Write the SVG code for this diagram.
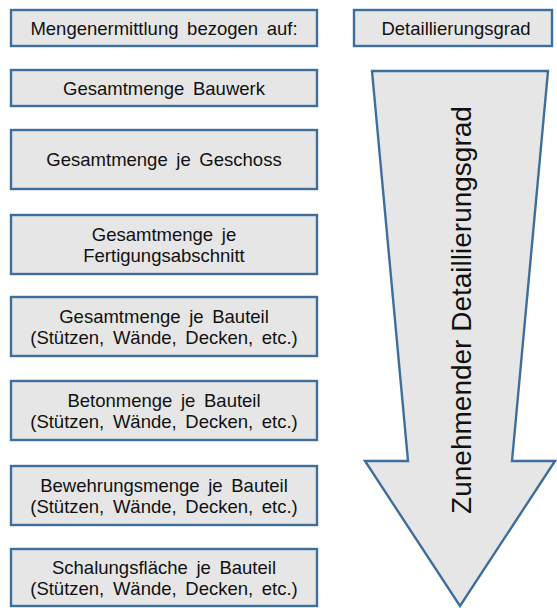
<svg xmlns="http://www.w3.org/2000/svg" width="557" height="608" viewBox="0 0 557 608">
  <style>
    .box { fill: #E6E6E6; stroke: #3E6E9C; stroke-width: 2.4; }
    .lbl { font-family: "Liberation Sans", Arial, sans-serif; font-size: 18.5px; fill: #111; text-anchor: middle; word-spacing: 3.5px; }
    .big { font-family: "Liberation Sans", Arial, sans-serif; font-size: 28px; fill: #111; text-anchor: middle; }
  </style>
  <rect width="557" height="608" fill="#FFFFFF"/>

  <!-- Column headers -->
  <g id="header-left">
    <rect class="box" x="11" y="10" width="306" height="36"/>
    <text class="lbl" x="164" y="34.6">Mengenermittlung bezogen auf:</text>
  </g>
  <g id="header-right">
    <rect class="box" x="354" y="10" width="198" height="36"/>
    <text class="lbl" x="456" y="34.6">Detaillierungsgrad</text>
  </g>

  <!-- Quantity levels, coarse to fine -->
  <g id="level-1">
    <rect class="box" x="11" y="70" width="306" height="36"/>
    <text class="lbl" x="164" y="94.6">Gesamtmenge Bauwerk</text>
  </g>
  <g id="level-2">
    <rect class="box" x="11" y="130" width="306" height="59"/>
    <text class="lbl" x="164" y="166.1">Gesamtmenge je Geschoss</text>
  </g>
  <g id="level-3">
    <rect class="box" x="11" y="215" width="306" height="59"/>
    <text class="lbl" x="164" y="241">Gesamtmenge je</text>
    <text class="lbl" x="164" y="262">Fertigungsabschnitt</text>
  </g>
  <g id="level-4">
    <rect class="box" x="11" y="297" width="306" height="59"/>
    <text class="lbl" x="164" y="323">Gesamtmenge je Bauteil</text>
    <text class="lbl" x="164" y="344">(Stützen, Wände, Decken, etc.)</text>
  </g>
  <g id="level-5">
    <rect class="box" x="11" y="381" width="306" height="59"/>
    <text class="lbl" x="164" y="407">Betonmenge je Bauteil</text>
    <text class="lbl" x="164" y="428">(Stützen, Wände, Decken, etc.)</text>
  </g>
  <g id="level-6">
    <rect class="box" x="11" y="466" width="306" height="59"/>
    <text class="lbl" x="164" y="492">Bewehrungsmenge je Bauteil</text>
    <text class="lbl" x="164" y="513">(Stützen, Wände, Decken, etc.)</text>
  </g>
  <g id="level-7">
    <rect class="box" x="11" y="549" width="306" height="57"/>
    <text class="lbl" x="164" y="574">Schalungsfläche je Bauteil</text>
    <text class="lbl" x="164" y="595">(Stützen, Wände, Decken, etc.)</text>
  </g>

  <!-- Large downward arrow: increasing level of detail -->
  <g id="detail-arrow">
    <polygon class="box" points="372,71 548,71 512,461 555,461 460,606 365,461 408,461"/>
    <text class="big" transform="translate(471,310) rotate(-90)">Zunehmender Detaillierungsgrad</text>
  </g>

  <g id="connectors"/>
</svg>
